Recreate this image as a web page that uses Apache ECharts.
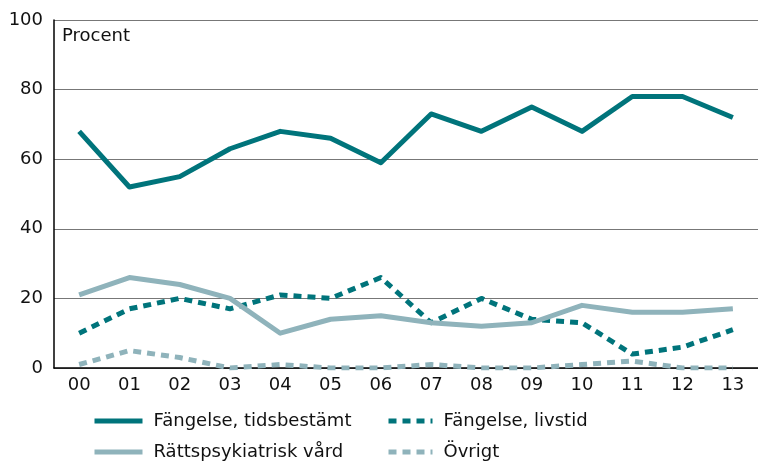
<!DOCTYPE html>
<html style="height: 100%">
<head>
    <meta charset="utf-8">
</head>
<body style="height: 100%; margin: 0; background: #fff">
<div id="container" style="width: 758px; height: 462px"></div>
<script type="text/javascript" src="https://cdn.jsdelivr.net/npm/echarts@6/dist/echarts.min.js"></script>
<script type="text/javascript">
    // år 2000-2013
    var years = ['00', '01', '02', '03', '04', '05', '06', '07', '08', '09', '10', '11', '12', '13'];
    var tidsbestamt = [68, 52, 55, 63, 68, 66, 59, 73, 68, 75, 68, 78, 78, 72];
    var livstid = [10, 17, 20, 17, 21, 20, 26, 13, 20, 14, 13, 4, 6, 11];
    var rattspsyk = [21, 26, 24, 20, 10, 14, 15, 13, 12, 13, 18, 16, 16, 17];
    var ovrigt = [1, 5, 3, 0, 1, 0, 0, 1, 0, 0, 1, 2, 0, 0];
    var yTicks = [0, 20, 40, 60, 80, 100];

    var dark = '#00747b';
    var light = '#8fb3bb';
    var font = 'DejaVu Sans';

    var dom = document.getElementById("container");
    var myChart = echarts.init(dom);

    function line(name, data, color, dashed) {
        return {
            name: name,
            type: 'line',
            data: data,
            symbol: 'none',
            smooth: false,
            silent: true,
            animation: false,
            lineStyle: {
                color: color,
                width: 5,
                type: dashed ? [8, 6] : 'solid',
                cap: 'butt',
                join: 'round'
            },
            itemStyle: { color: color }
        };
    }

    function leg(name, left, top, w) {
        return {
            data: [name],
            left: left,
            top: top,
            padding: 0,
            itemWidth: w,
            itemHeight: 14,
            itemGap: 0,
            selectedMode: false,
            itemStyle: { opacity: 0 },
            lineStyle: { width: 5 },
            textStyle: { fontFamily: font, fontSize: 18, color: '#111', lineHeight: 20, padding: [0, 0, 0, 6] }
        };
    }

    var option = {
        animation: false,
        grid: {
            left: 54,
            top: 20,
            width: 713,
            bottom: 94
        },
        legend: [
            leg('Fängelse, tidsbestämt', 92, 411, 48),
            leg('Fängelse, livstid', 386, 411, 44),
            leg('Rättspsykiatrisk vård', 92, 442, 48),
            leg('Övrigt', 386, 442, 44)
        ],
        graphic: [{
            type: 'text',
            left: 62,
            top: 27,
            style: { text: 'Procent', fontFamily: font, fontSize: 18, fill: '#111' }
        }],
        xAxis: {
            type: 'category',
            data: years,
            boundaryGap: true,
            axisLine: { lineStyle: { color: '#000', width: 1.5 } },
            axisTick: { show: false },
            axisLabel: { fontFamily: font, fontSize: 18, color: '#111', margin: 8 }
        },
        yAxis: {
            type: 'value',
            min: yTicks[0],
            max: yTicks[yTicks.length - 1],
            interval: 20,
            axisLine: { show: true, lineStyle: { color: '#000', width: 1.5 } },
            axisTick: { show: false },
            axisLabel: { fontFamily: font, fontSize: 18, color: '#111', margin: 11 },
            splitLine: { lineStyle: { color: '#777', width: 1 } }
        },
        series: [
            line('Fängelse, tidsbestämt', tidsbestamt, dark, false),
            line('Fängelse, livstid', livstid, dark, true),
            line('Rättspsykiatrisk vård', rattspsyk, light, false),
            line('Övrigt', ovrigt, light, true)
        ]
    };

    if (option && typeof option === "object") {
        myChart.setOption(option, true);
    }
</script>
</body>
</html>
